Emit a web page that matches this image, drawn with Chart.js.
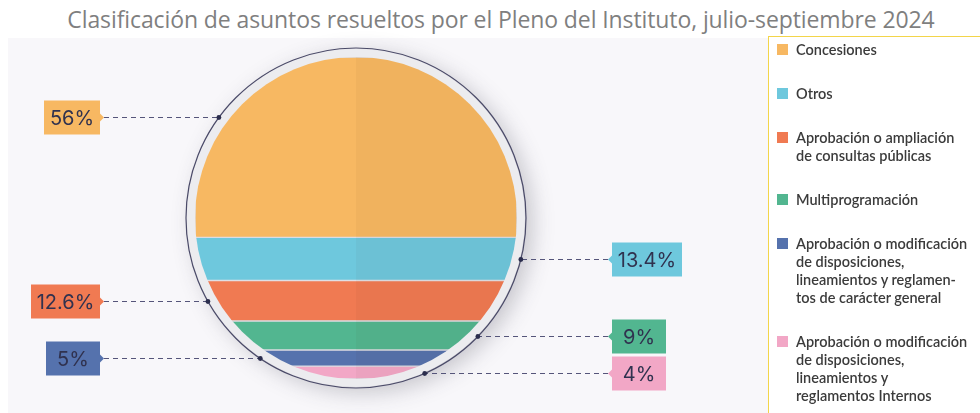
<!DOCTYPE html>
<html lang="es">
<head>
    <meta charset="UTF-8">
    <title>Clasificación de asuntos resueltos</title>
    <style>
        html, body { margin: 0; padding: 0; background: #ffffff; }
        #wrap { position: relative; width: 980px; height: 413px; overflow: hidden; }
        #title {
            position: absolute; left: 0; top: 3px; width: 1002px; text-align: center;
            font-family: "Open Sans", sans-serif; font-size: 23px; color: #7f7f7f;
            white-space: nowrap; letter-spacing: -0.1px;
        }
        #panel { position: absolute; left: 8px; top: 38px; width: 760px; height: 375px; background: #f8f7fa; }
        #legendBox {
            position: absolute; left: 768px; top: 36px; width: 212px; height: 377px;
            background: #ffffff; border-left: 1.5px solid #f3d54a; border-top: 1.5px solid #f3d54a;
        }
        #legend { position: absolute; left: 776px; top: 41px; font-family: Lato, sans-serif; font-size: 14.5px; color: #3b3b3b; }
        .item { position: relative; padding-left: 20px; margin-bottom: 26px; line-height: 18px; white-space: pre; font-weight: 600; }
        .sw { position: absolute; left: 1px; top: 3px; width: 11px; height: 11px; }
        #chartBox { position: absolute; left: 0; top: 0; width: 980px; height: 413px; }
    </style>
</head>
<body>
<div id="wrap">
    <div id="panel"></div>
    <div id="legendBox"></div>
    <div id="title">Clasificación de asuntos resueltos por el Pleno del Instituto, julio-septiembre 2024</div>
    <div id="chartBox"><canvas id="ring"></canvas></div>
    <div id="legend"></div>
</div>

<script src="https://cdn.jsdelivr.net/npm/chart.js"></script>
<script>
    // categories, top to bottom in the circle
    const categories = [
        'Concesiones',
        'Otros',
        'Aprobación o ampliación\nde consultas públicas',
        'Multiprogramación',
        'Aprobación o modificación\nde disposiciones,\nlineamientos y reglamen-\ntos de carácter general',
        'Aprobación o modificación\nde disposiciones,\nlineamientos y\nreglamentos Internos'
    ];
    const percents = [56, 13.4, 12.6, 9, 5, 4];
    const percentLabels = ['56%', '13.4%', '12.6%', '9%', '5%', '4%'];
    const colors = ['#f7b862', '#6ec8dd', '#f07a52', '#52b690', '#5572ad', '#f2a7c6'];

    // legend on the right (html)
    const legendEl = document.getElementById('legend');
    categories.forEach((c, i) => {
        const d = document.createElement('div');
        d.className = 'item';
        d.innerHTML = '<span class="sw" style="background:' + colors[i] + '"></span>';
        d.appendChild(document.createTextNode(c));
        legendEl.appendChild(d);
    });

    const INNER_R = 161, OUTER_R = 170;

    // circle, clip, shading and the call-out tags
    const circlePlugin = {
        id: 'circlePlugin',
        beforeDatasetsDraw(chart) {
            const { ctx, chartArea: a } = chart;
            const cx = (a.left + a.right) / 2, cy = (a.top + a.bottom) / 2;
            ctx.save();
            ctx.shadowColor = 'rgba(60,60,80,0.28)';
            ctx.shadowBlur = 22;
            ctx.shadowOffsetX = 7;
            ctx.shadowOffsetY = 5;
            ctx.beginPath();
            ctx.arc(cx, cy, OUTER_R - 1, 0, Math.PI * 2);
            ctx.fillStyle = '#ececef';
            ctx.fill();
            ctx.restore();
            ctx.save();
            ctx.beginPath();
            ctx.arc(cx, cy, INNER_R, 0, Math.PI * 2);
            ctx.clip();
        },
        afterDatasetsDraw(chart, args, opts) {
            const { ctx, chartArea: a } = chart;
            const cx = (a.left + a.right) / 2, cy = (a.top + a.bottom) / 2;
            // right half a touch darker
            ctx.fillStyle = 'rgba(60,30,0,0.035)';
            ctx.fillRect(cx, a.top - 2, INNER_R + 2, a.bottom - a.top + 4);
            ctx.restore();

            ctx.save();
            ctx.beginPath();
            ctx.arc(cx, cy, OUTER_R, 0, Math.PI * 2);
            ctx.strokeStyle = '#4a4a68';
            ctx.lineWidth = 1.2;
            ctx.stroke();

            const yScale = chart.scales.y;
            ctx.font = '20px Inter, sans-serif';
            let start = 0;
            percents.forEach((v, i) => {
                const frac = i === 0 ? 0.33 : 0.5;
                const y = Math.round(yScale.getPixelForValue(start + v * frac)) + 0.5;
                start += v;
                const side = opts.sides[i];
                const dx = Math.sqrt(Math.max(0, OUTER_R * OUTER_R - (y - cy) * (y - cy)));
                const ringX = side === 'left' ? cx - dx : cx + dx;
                const text = percentLabels[i];
                const w = Math.max(54, Math.ceil(ctx.measureText(text).width) + 11);
                const h = 34;
                let tagX0, tipX;
                if (side === 'left') { tagX0 = 100 - w; tipX = 104; }
                else { tagX0 = 612; tipX = 608; }

                // dashed leader
                ctx.setLineDash([5, 4]);
                ctx.strokeStyle = '#55557a';
                ctx.lineWidth = 1.2;
                ctx.beginPath();
                ctx.moveTo(tipX, y);
                ctx.lineTo(ringX, y);
                ctx.stroke();
                ctx.setLineDash([]);
                ctx.fillStyle = '#2b2d4d';
                ctx.beginPath();
                ctx.arc(ringX, y, 2.4, 0, Math.PI * 2);
                ctx.fill();

                // tag with small notch
                ctx.fillStyle = colors[i];
                ctx.beginPath();
                ctx.rect(tagX0, y - h / 2, w, h);
                ctx.fill();
                ctx.beginPath();
                if (side === 'left') {
                    ctx.moveTo(tagX0 + w, y - 4); ctx.lineTo(tipX, y); ctx.lineTo(tagX0 + w, y + 4);
                } else {
                    ctx.moveTo(tagX0, y - 4); ctx.lineTo(tipX, y); ctx.lineTo(tagX0, y + 4);
                }
                ctx.fill();
                ctx.fillStyle = '#30324f';
                ctx.textAlign = 'center';
                ctx.textBaseline = 'middle';
                ctx.fillText(text, tagX0 + w / 2, y + 1);
            });
            ctx.restore();
        }
    };

    new Chart(document.getElementById('ring'), {
        type: 'bar',
        data: {
            labels: [''],
            datasets: categories.map((c, i) => ({
                label: c,
                data: [percents[i]],
                backgroundColor: colors[i],
                borderColor: '#dcdce2',
                borderWidth: 1,
                borderSkipped: false,
                barPercentage: 1,
                categoryPercentage: 1
            }))
        },
        options: {
            responsive: true,
            maintainAspectRatio: false,
            animation: false,
            layout: { padding: { left: 195, right: 463, top: 57, bottom: 34 } },
            scales: {
                x: { display: false, stacked: true },
                y: { display: false, stacked: true, min: 0, max: 100, reverse: true }
            },
            plugins: {
                legend: { display: false },
                tooltip: { enabled: false },
                circlePlugin: { sides: ['left', 'right', 'left', 'right', 'left', 'right'] }
            }
        },
        plugins: [circlePlugin]
    });
</script>
</body>
</html>
